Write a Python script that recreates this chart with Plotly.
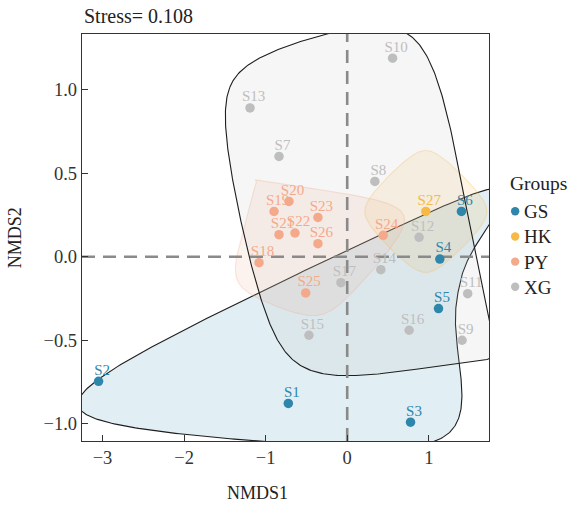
import numpy as np
import plotly.graph_objects as go

# ---------------- data ----------------
samples = ["S1", "S2", "S3", "S4", "S5", "S6",
           "S7", "S8", "S9", "S10", "S11", "S12", "S13", "S14", "S15", "S16", "S17",
           "S18", "S19", "S20", "S21", "S22", "S23", "S24", "S25", "S26",
           "S27"]
groups = ["GS"] * 6 + ["XG"] * 11 + ["PY"] * 9 + ["HK"]
nmds1 = [-0.722, -3.048, 0.776, 1.135, 1.119, 1.400,
         -0.836, 0.339, 1.408, 0.556, 1.477, 0.881, -1.191, 0.412, -0.469, 0.759, -0.077,
         -1.081, -0.897, -0.714, -0.836, -0.640, -0.359, 0.441, -0.509, -0.359,
         0.963]
nmds2 = [-0.880, -0.747, -0.992, -0.014, -0.311, 0.271,
         0.601, 0.451, -0.501, 1.190, -0.222, 0.116, 0.892, -0.078, -0.471, -0.441, -0.156,
         -0.036, 0.271, 0.331, 0.132, 0.142, 0.235, 0.128, -0.217, 0.078,
         0.271]
group_names = ["GS", "HK", "PY", "XG"]
group_colors = ["#2E86AB", "#F7B946", "#F4A98A", "#BEBEBE"]
stress_value = 0.108
x_tickvals = [-3, -2, -1, 0, 1]
y_tickvals = [-1.0, -0.5, 0.0, 0.5, 1.0]

# panel ranges
XR = [-3.251, 1.738]
YR = [-1.105, 1.335]

# ---------------- pixel helpers (layout only) ----------------
W, H = 575, 505
PL, PR, PT, PB = 81.7, 489.3, 34.0, 441.5


def paper_x(px):
    return (px - PL) / (PR - PL)


def paper_y(py):
    return (PB - py) / (PB - PT)


# ---------------- encircle (ggalt-like) ----------------
def convex_hull(pts):
    pts = sorted(set(pts))
    if len(pts) <= 2:
        return pts

    def cross(o, a, b):
        return (a[0] - o[0]) * (b[1] - o[1]) - (a[1] - o[1]) * (b[0] - o[0])

    lower = []
    for p in pts:
        while len(lower) >= 2 and cross(lower[-2], lower[-1], p) <= 0:
            lower.pop()
        lower.append(p)
    upper = []
    for p in reversed(pts):
        while len(upper) >= 2 and cross(upper[-2], upper[-1], p) <= 0:
            upper.pop()
        upper.append(p)
    return lower[:-1] + upper[:-1]


def g_blend(u, q):
    return u * (q + u * (2 * q + u * (8 - 12 * q + u * (14 * q - 11 + u * (4 - 5 * q)))))


def h_blend(u, q):
    return u * (q + u * (2 * q + u * u * (-2 * q - u * q)))


def xspline_closed(px, py, shape=-0.5, n=120):
    q = -shape
    N = len(px)
    ts = np.linspace(0, 1, n, endpoint=False)
    A0 = h_blend(-ts, q)
    A1 = g_blend(1 - ts, q)
    A2 = g_blend(ts, q)
    A3 = h_blend(ts - 1, q)
    S = A0 + A1 + A2 + A3
    ox, oy = [], []
    for k in range(N):
        i0, i1, i2, i3 = (k - 1) % N, k, (k + 1) % N, (k + 2) % N
        ox.extend((A0 * px[i0] + A1 * px[i1] + A2 * px[i2] + A3 * px[i3]) / S)
        oy.extend((A0 * py[i0] + A1 * py[i1] + A2 * py[i2] + A3 * py[i3]) / S)
    ox.append(ox[0])
    oy.append(oy[0])
    return np.array(ox), np.array(oy)


def encircle(xs, ys, expand=0.05, spread=0.1):
    nx = (np.array(xs) - XR[0]) / (XR[1] - XR[0])
    ny = (np.array(ys) - YR[0]) / (YR[1] - YR[0])
    mx, my = nx.mean(), ny.mean()
    hull = convex_hull(list(zip(nx.tolist(), ny.tolist())))
    if len(hull) == 1:
        x0, y0 = hull[0]
        hull = [(x0 + spread, y0), (x0, y0 + spread), (x0 - spread, y0), (x0, y0 - spread)]
    cx = [x + np.sign(round(x - mx, 12)) * expand for x, y in hull]
    cy = [y + np.sign(round(y - my, 12)) * expand for x, y in hull]
    sx, sy = xspline_closed(cx, cy)
    return XR[0] + sx * (XR[1] - XR[0]), YR[0] + sy * (YR[1] - YR[0])


def rgba(hexc, a):
    hexc = hexc.lstrip("#")
    r, g, b = int(hexc[0:2], 16), int(hexc[2:4], 16), int(hexc[4:6], 16)
    return f"rgba({r},{g},{b},{a})"


fig = go.Figure()

outline = {"GS": "#1e1e1e", "XG": "#1e1e1e"}

# hulls
for gname, col in zip(group_names, group_colors):
    gx = [x for x, g in zip(nmds1, groups) if g == gname]
    gy = [y for y, g in zip(nmds2, groups) if g == gname]
    hx, hy = encircle(gx, gy)
    lc = outline.get(gname, rgba(col, 0.30))
    fig.add_trace(go.Scatter(x=hx, y=hy, mode="lines", fill="toself",
                             fillcolor=rgba(col, 0.14),
                             line=dict(color=lc, width=1.1),
                             hoverinfo="skip", showlegend=False))

# reference lines
fig.add_trace(go.Scatter(x=XR, y=[0, 0], mode="lines",
                         line=dict(color="#8a8a8a", width=2.6, dash="13px,8px"),
                         hoverinfo="skip", showlegend=False))
fig.add_trace(go.Scatter(x=[0, 0], y=YR, mode="lines",
                         line=dict(color="#8a8a8a", width=2.6, dash="13px,8px"),
                         hoverinfo="skip", showlegend=False))

# points
for gname, col in zip(group_names, group_colors):
    gx = [x for x, g in zip(nmds1, groups) if g == gname]
    gy = [y for y, g in zip(nmds2, groups) if g == gname]
    fig.add_trace(go.Scatter(x=gx, y=gy, mode="markers", name=gname,
                             marker=dict(size=9.5, color=col),
                             showlegend=False))

# labels (nudged)
nudge_x, nudge_y = 0.043, 0.062
for gname, col in zip(group_names, group_colors):
    gx = [x + nudge_x for x, g in zip(nmds1, groups) if g == gname]
    gy = [y + nudge_y for y, g in zip(nmds2, groups) if g == gname]
    gl = [s for s, g in zip(samples, groups) if g == gname]
    fig.add_trace(go.Scatter(x=gx, y=gy, mode="text", text=gl,
                             textposition="middle center",
                             textfont=dict(family="Liberation Serif", size=15, color=col),
                             hoverinfo="skip", showlegend=False))

annotations = []
shapes = []
serif = "Liberation Serif"
# title
annotations.append(dict(text=f"Stress= {stress_value}", xref="paper", yref="paper",
                        x=paper_x(82), y=paper_y(16), xanchor="left", yanchor="middle",
                        showarrow=False, font=dict(family=serif, size=20, color="#222")))
# axis titles
annotations.append(dict(text="NMDS1", xref="paper", yref="paper",
                        x=paper_x(257), y=paper_y(494), xanchor="center", yanchor="middle",
                        showarrow=False, font=dict(family=serif, size=18, color="#222")))
annotations.append(dict(text="NMDS2", xref="paper", yref="paper",
                        x=paper_x(14), y=paper_y(238), xanchor="center", yanchor="middle",
                        textangle=-90, showarrow=False,
                        font=dict(family=serif, size=18, color="#222")))
# legend
annotations.append(dict(text="Groups", xref="paper", yref="paper",
                        x=paper_x(508), y=paper_y(184), xanchor="left", yanchor="middle",
                        showarrow=False, font=dict(family=serif, size=19.5, color="#222")))
for i, (gname, col) in enumerate(zip(group_names, group_colors)):
    cy = 211.5 + 25.2 * i
    cx = 515.5
    r = 4.2
    shapes.append(dict(type="circle", xref="paper", yref="paper",
                       x0=paper_x(cx - r), x1=paper_x(cx + r),
                       y0=paper_y(cy + r), y1=paper_y(cy - r),
                       fillcolor=col, line=dict(width=0)))
    annotations.append(dict(text=gname, xref="paper", yref="paper",
                            x=paper_x(522), y=paper_y(cy + 0.5), xanchor="left", yanchor="middle",
                            showarrow=False, font=dict(family=serif, size=19, color="#222")))

axis_common = dict(showgrid=False, zeroline=False, showline=True, mirror=True,
                   linecolor="#333333", linewidth=1.4, ticks="inside", ticklen=6,
                   tickcolor="#333333", tickwidth=1.2,
                   tickfont=dict(family=serif, size=18.5, color="#333333"))

fig.update_layout(
    width=W, height=H,
    margin=dict(l=PL, r=W - PR, t=PT, b=H - PB, pad=0),
    plot_bgcolor="white", paper_bgcolor="white",
    showlegend=False,
    xaxis=dict(range=XR, tickvals=x_tickvals, **axis_common),
    yaxis=dict(range=YR, tickvals=y_tickvals, tickformat=".1f", **axis_common),
    annotations=annotations, shapes=shapes,
)

fig.write_html("out.html")
